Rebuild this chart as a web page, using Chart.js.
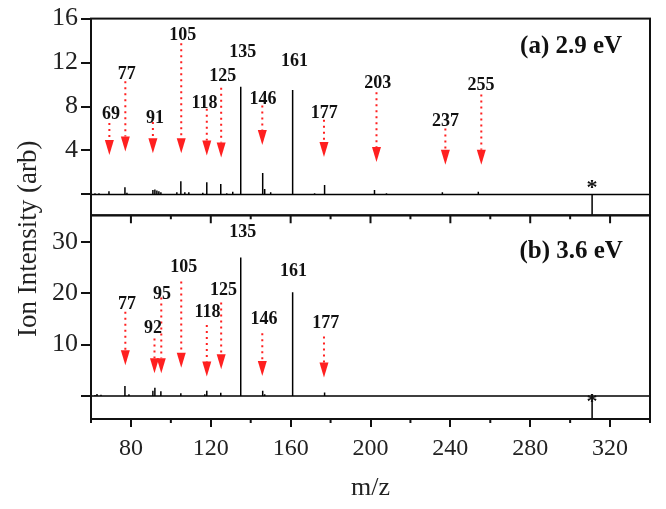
<!DOCTYPE html>
<html>
<head>
<meta charset="utf-8">
<script src="https://cdn.jsdelivr.net/npm/chart.js@4/dist/chart.umd.min.js"></script>
<style>
  html, body { margin: 0; padding: 0; background: #fff; }
</style>
</head>
<body>
<canvas id="ms-chart" width="666" height="509"></canvas>
<script>
// panel (a) 2.9 eV : stick spectrum, m/z and intensity
var mzA  = [62, 64, 69, 77, 78, 91, 92, 93, 94, 95, 103, 105, 107, 109, 116, 118, 125, 128, 131, 135, 146, 147, 150, 161, 172, 177, 202, 208, 221, 236, 254, 264, 311];
var intA = [0.1, 0.1, 0.3, 0.65, 0.15, 0.4, 0.45, 0.35, 0.3, 0.2, 0.2, 1.2, 0.2, 0.2, 0.15, 1.1, 0.95, 0.1, 0.25, 9.8, 1.95, 0.5, 0.2, 9.5, 0.1, 0.85, 0.4, 0.1, 0.05, 0.2, 0.25, 0.05, -1.9];

// panel (b) 3.6 eV
var mzB  = [62, 63, 65, 69, 77, 79, 81, 91, 92, 95, 99, 105, 107, 117, 118, 125, 131, 135, 146, 147, 151, 161, 177, 203, 208, 220, 237, 255, 261, 278, 292, 295, 311];
var intB = [0.2, 0.35, 0.25, 0.15, 1.95, 0.3, 0.1, 1.0, 1.6, 0.9, 0.1, 0.5, 0.15, 0.3, 1.0, 0.6, 0.15, 27, 1.0, 0.3, 0.15, 20.2, 0.65, 0.15, 0.15, 0.15, 0.15, 0.15, 0.15, 0.15, 0.15, 0.15, -4.5];

// axis ticks
var xMajor = [80, 120, 160, 200, 240, 280, 320];
var xMinor = [60, 100, 140, 180, 220, 260, 300, 340];
var yTicksA = [0, 4, 8, 12, 16];
var yTicksB = [0, 10, 20, 30];

// peak labels (text, m/z, intensity of label centre)
var labelTxtA = ['69', '77', '91', '105', '118', '125', '135', '146', '161', '177', '203', '237', '255'];
var labelMzA  = [70, 77.9, 92, 106, 116.9, 126, 136, 146.2, 161.9, 176.8, 203.6, 237.6, 255.4];
var labelYA   = [7.45, 11.1, 7.1, 14.6, 8.5, 10.95, 13.1, 8.8, 12.3, 7.55, 10.3, 6.8, 10.1];

var labelTxtB = ['77', '92', '95', '105', '118', '125', '135', '146', '161', '177'];
var labelMzB  = [78, 91, 95.6, 106.4, 118.3, 126.4, 136, 146.7, 161.4, 177.6];
var labelYB   = [18.2, 13.6, 20.2, 25.5, 16.7, 20.9, 32.2, 15.3, 24.6, 14.6];

// red arrows (m/z, top of dotted line, arrow tip)
var arrowMzA  = [69.2, 77.2, 91, 105.2, 118, 125.2, 145.8, 176.7, 203, 237.5, 255.5];
var arrowTopA = [6.5, 10.3, 6.6, 13.75, 7.8, 9.7, 8.1, 6.8, 9.3, 6.0, 9.1];
var arrowTipA = [3.6, 3.9, 3.75, 3.75, 3.55, 3.35, 4.5, 3.4, 2.95, 2.7, 2.7];

var arrowMzB  = [77.2, 91.8, 95.2, 105.2, 118, 125.2, 145.8, 176.7];
var arrowTopB = [16.4, 11.2, 19.2, 22.3, 13.8, 18.2, 12.2, 11.6];
var arrowTipB = [6.0, 4.4, 4.4, 5.5, 3.8, 5.2, 3.9, 3.6];

// panel captions and parent-ion markers
var captionA = '(a) 2.9 eV', captionB = '(b) 3.6 eV';
var captionMz = 300.5, captionYA = 13.4, captionYB = 28.0;
var starMz = 311, starYA = 0.9, starYB = -0.5;

var X_MIN = 60, X_MAX = 340;
var SERIF = "'Liberation Serif', 'Times New Roman', serif";
var RED = '#ff2020';
var INK = '#111';

function stickPoints(mz, inten) {
    var pts = [{x: X_MIN, y: 0}];
    for (var i = 0; i < mz.length; i++) {
        pts.push({x: mz[i], y: 0}, {x: mz[i], y: inten[i]}, {x: mz[i], y: 0});
    }
    pts.push({x: X_MAX, y: 0});
    return pts;
}

// draw text with its glyph box centred on (px, py)
function centerText(ctx, txt, px, py) {
    var m = ctx.measureText(txt);
    ctx.textAlign = 'center';
    ctx.textBaseline = 'alphabetic';
    ctx.fillText(txt, px, py + (m.actualBoundingBoxAscent - m.actualBoundingBoxDescent) / 2);
}

function drawArrow(ctx, px, pyTop, pyTip) {
    var headH = 15, headW = 9;
    ctx.save();
    ctx.strokeStyle = RED;
    ctx.lineWidth = 2;
    ctx.setLineDash([2, 4]);
    ctx.beginPath();
    ctx.moveTo(px, pyTop);
    ctx.lineTo(px, pyTip - headH);
    ctx.stroke();
    ctx.setLineDash([]);
    ctx.fillStyle = RED;
    ctx.beginPath();
    ctx.moveTo(px - headW / 2, pyTip - headH);
    ctx.lineTo(px + headW / 2, pyTip - headH);
    ctx.lineTo(px, pyTip);
    ctx.closePath();
    ctx.fill();
    ctx.restore();
}

var overlay = {
    id: 'overlay',
    afterDatasetsDraw: function(chart) {
        var ctx = chart.ctx;
        var x = chart.scales.x, yA = chart.scales.yA, yB = chart.scales.yB;
        ctx.save();

        // panel frames
        ctx.strokeStyle = INK;
        ctx.lineWidth = 2;
        [yA, yB].forEach(function(s) {
            ctx.strokeRect(x.left, s.top, x.right - x.left, s.bottom - s.top);
        });

        // ticks of panel (a) bottom axis, pointing into panel (b); minor ticks of main axis
        ctx.beginPath();
        xMajor.forEach(function(v) {
            var p = x.getPixelForValue(v);
            ctx.moveTo(p, yA.bottom); ctx.lineTo(p, yA.bottom + 8);
        });
        xMinor.forEach(function(v) {
            var p = x.getPixelForValue(v);
            ctx.moveTo(p, yA.bottom); ctx.lineTo(p, yA.bottom + 4);
            ctx.moveTo(p, yB.bottom); ctx.lineTo(p, yB.bottom + 4);
        });
        ctx.stroke();

        // arrows
        for (var i = 0; i < arrowMzA.length; i++) {
            drawArrow(ctx, x.getPixelForValue(arrowMzA[i]), yA.getPixelForValue(arrowTopA[i]), yA.getPixelForValue(arrowTipA[i]));
        }
        for (var j = 0; j < arrowMzB.length; j++) {
            drawArrow(ctx, x.getPixelForValue(arrowMzB[j]), yB.getPixelForValue(arrowTopB[j]), yB.getPixelForValue(arrowTipB[j]));
        }

        // peak labels
        ctx.fillStyle = INK;
        ctx.font = 'bold 18px ' + SERIF;
        for (var k = 0; k < labelTxtA.length; k++) {
            centerText(ctx, labelTxtA[k], x.getPixelForValue(labelMzA[k]), yA.getPixelForValue(labelYA[k]));
        }
        for (var n = 0; n < labelTxtB.length; n++) {
            centerText(ctx, labelTxtB[n], x.getPixelForValue(labelMzB[n]), yB.getPixelForValue(labelYB[n]));
        }

        // captions
        ctx.font = 'bold 25px ' + SERIF;
        centerText(ctx, captionA, x.getPixelForValue(captionMz), yA.getPixelForValue(captionYA));
        centerText(ctx, captionB, x.getPixelForValue(captionMz), yB.getPixelForValue(captionYB));

        // asterisks
        ctx.font = 'bold 22px ' + SERIF;
        centerText(ctx, '*', x.getPixelForValue(starMz), yA.getPixelForValue(starYA));
        centerText(ctx, '*', x.getPixelForValue(starMz), yB.getPixelForValue(starYB));

        // shared y title
        ctx.font = '27px ' + SERIF;
        ctx.fillStyle = '#222';
        ctx.translate(29, (yA.top + yB.bottom) / 2 + 20);
        ctx.rotate(-Math.PI / 2);
        centerText(ctx, 'Ion Intensity (arb)', 0, 0);
        ctx.restore();
    }
};

function yScale(min, max, ticks, weight) {
    return {
        type: 'linear',
        position: 'left',
        stack: 'panels',
        stackWeight: weight,
        min: min,
        max: max,
        afterBuildTicks: function(s) { s.ticks = ticks.map(function(v) { return {value: v}; }); },
        afterFit: function(s) { s.width = 91; },
        grid: { drawOnChartArea: false, tickLength: 10, color: INK, lineWidth: 2 },
        border: { color: INK, width: 2 },
        ticks: {
            padding: 3,
            autoSkip: false,
            color: '#222',
            font: { family: SERIF, size: 26 },
            callback: function(v) { return v === 0 ? '' : v; }
        }
    };
}

var ctx = document.getElementById('ms-chart').getContext('2d');
var msChart = new Chart(ctx, {
    type: 'line',
    data: {
        datasets: [
            {
                label: '2.9 eV',
                data: stickPoints(mzA, intA),
                xAxisID: 'x',
                yAxisID: 'yA',
                borderColor: '#000',
                borderWidth: 1.5,
                pointRadius: 0,
                tension: 0,
                fill: false
            },
            {
                label: '3.6 eV',
                data: stickPoints(mzB, intB),
                xAxisID: 'x',
                yAxisID: 'yB',
                borderColor: '#000',
                borderWidth: 1.5,
                pointRadius: 0,
                tension: 0,
                fill: false
            }
        ]
    },
    options: {
        responsive: false,
        animation: false,
        devicePixelRatio: 1,
        layout: { padding: { left: 0, right: 16, top: 15, bottom: 0 } },
        plugins: {
            legend: { display: false },
            tooltip: { enabled: false }
        },
        scales: {
            x: {
                type: 'linear',
                position: 'bottom',
                min: X_MIN,
                max: X_MAX,
                afterBuildTicks: function(s) { s.ticks = xMajor.map(function(v) { return {value: v}; }); },
                afterFit: function(s) { s.height = 90; },
                grid: { drawOnChartArea: false, tickLength: 8, color: INK, lineWidth: 2 },
                border: { color: INK, width: 2 },
                ticks: {
                    padding: 7,
                    maxRotation: 0,
                    autoSkip: false,
                    color: '#222',
                    font: { family: SERIF, size: 24 }
                },
                title: {
                    display: true,
                    text: 'm/z',
                    color: '#222',
                    font: { family: SERIF, size: 26 },
                    padding: { top: 0, bottom: 5 }
                }
            },
            yB: yScale(-4.5, 35.2, yTicksB, 205),
            yA: yScale(-1.9, 16, yTicksA, 198)
        }
    },
    plugins: [overlay]
});
</script>
</body>
</html>
